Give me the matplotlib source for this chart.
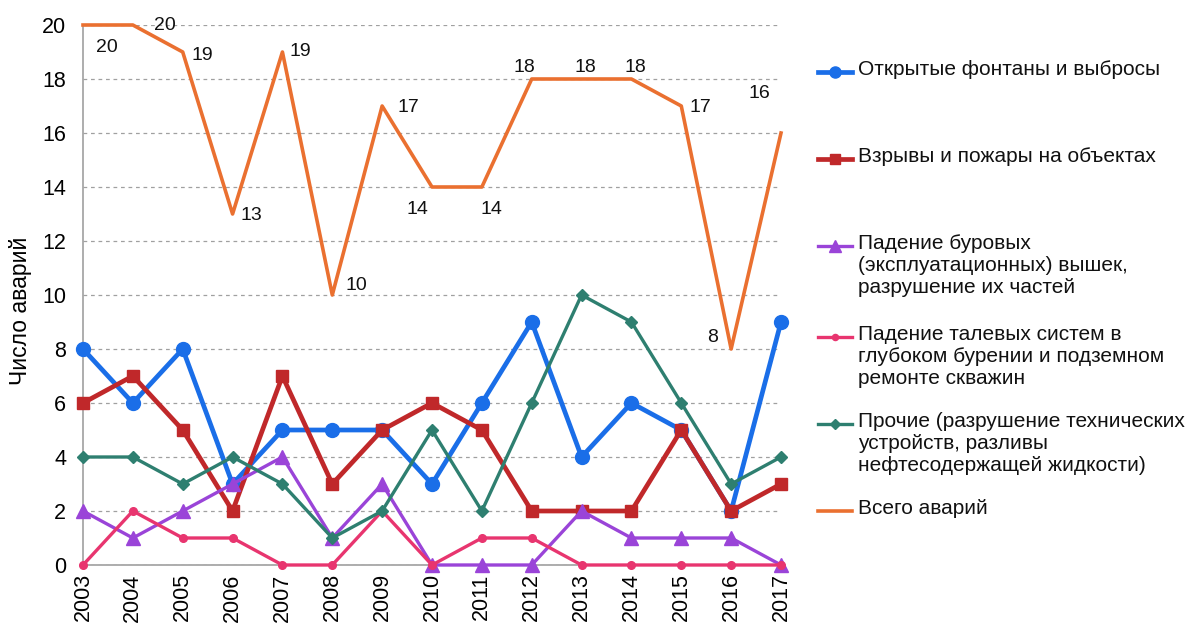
import matplotlib.pyplot as plt
from matplotlib.lines import Line2D

plt.rcParams['font.family'] = ['Liberation Sans', 'DejaVu Sans']

years = list(range(2003, 2018))

fountains = [8, 6, 8, 3, 5, 5, 5, 3, 6, 9, 4, 6, 5, 2, 9]
explosions = [6, 7, 5, 2, 7, 3, 5, 6, 5, 2, 2, 2, 5, 2, 3]
towers = [2, 1, 2, 3, 4, 1, 3, 0, 0, 0, 2, 1, 1, 1, 0]
tackle = [0, 2, 1, 1, 0, 0, 2, 0, 1, 1, 0, 0, 0, 0, 0]
other = [4, 4, 3, 4, 3, 1, 2, 5, 2, 6, 10, 9, 6, 3, 4]
total = [20, 20, 19, 13, 19, 10, 17, 14, 14, 18, 18, 18, 17, 8, 16]

names = ['Открытые фонтаны и выбросы',
         'Взрывы и пожары на объектах',
         'Падение буровых\n(эксплуатационных) вышек,\nразрушение их частей',
         'Падение талевых систем в\nглубоком бурении и подземном\nремонте скважин',
         'Прочие (разрушение технических\nустройств, разливы\nнефтесодержащей жидкости)',
         'Всего аварий']

# label offsets in pixels for the total line
label_off = [(24, -22), (32, 0), (20, -3), (19, -2), (18, 0), (24, 9), (26, -2),
             (-15, -23), (10, -23), (-7, 12), (4, 12), (4, 12), (19, -1), (-19, 12), (-22, 39)]

fig = plt.figure(figsize=(11.87, 6.28), dpi=100)
ax = fig.add_axes([83/1187, 1-565/628, (781-83)/1187, (565-25)/628])

styles = [
    (fountains, '#1a6ee8', 'o', 10, 3.4),
    (explosions, '#c0282a', 's', 9, 3.4),
    (towers, '#9a44d8', '^', 10, 2.4),
    (tackle, '#e8356f', 'o', 5.5, 2.4),
    (other, '#2e7f70', 'D', 6.5, 2.4),
]
handles = []
for (vals, col, mk, ms, lw) in styles:
    ax.plot(years, vals, color=col, marker=mk, markersize=ms, linewidth=lw,
            clip_on=False, zorder=3)
    handles.append((col, mk, ms, lw))

ax.plot(years, total, color='#ea7030', linewidth=2.6, clip_on=False, zorder=4)
handles.append(('#ea7030', None, 0, 2.6))

for x, v, off in zip(years, total, label_off):
    ax.annotate(str(v), (x, v), xytext=off, textcoords='offset pixels',
                ha='center', va='center', fontsize=14, color='#111111')

ax.set_xlim(2003, 2017)
ax.set_ylim(0, 20)
ax.set_yticks(range(0, 21, 2))
ax.set_xticks(years)
ax.set_xticklabels([str(y) for y in years], rotation=90, fontsize=15.5)
ax.tick_params(axis='y', labelsize=15.5, length=0, pad=12)
ax.tick_params(axis='x', length=0, pad=6)
ax.yaxis.grid(True, linestyle=(0, (3, 3)), color='#a0a0a0', linewidth=0.9)
ax.set_axisbelow(True)
for s in ['top', 'right']:
    ax.spines[s].set_visible(False)
for s in ['left', 'bottom']:
    ax.spines[s].set_color('#a0a0a0')
    ax.spines[s].set_linewidth(1.2)
ax.set_ylabel('Число аварий', fontsize=16.5)
ax.yaxis.set_label_coords(-0.073, 0.47)

# legend drawn entry by entry so the key sits on the first text line
y0 = 72
for i, (name, (col, mk, ms, lw)) in enumerate(zip(names, handles)):
    ypx = y0 + 87 * i + (4 if i >= 3 else 0)
    yf = 1 - ypx / 628
    fig.add_artist(Line2D([818/1187, 852/1187], [yf, yf], color=col, linewidth=lw,
                          transform=fig.transFigure))
    if mk:
        fig.add_artist(Line2D([835/1187], [yf], color=col, marker=mk, markersize=ms * 0.8,
                              transform=fig.transFigure))
    fig.text(858/1187, yf + 12/628, name, ha='left', va='top', fontsize=15,
             linespacing=1.2, color='#111111')

fig.savefig('out.png', dpi=100)
